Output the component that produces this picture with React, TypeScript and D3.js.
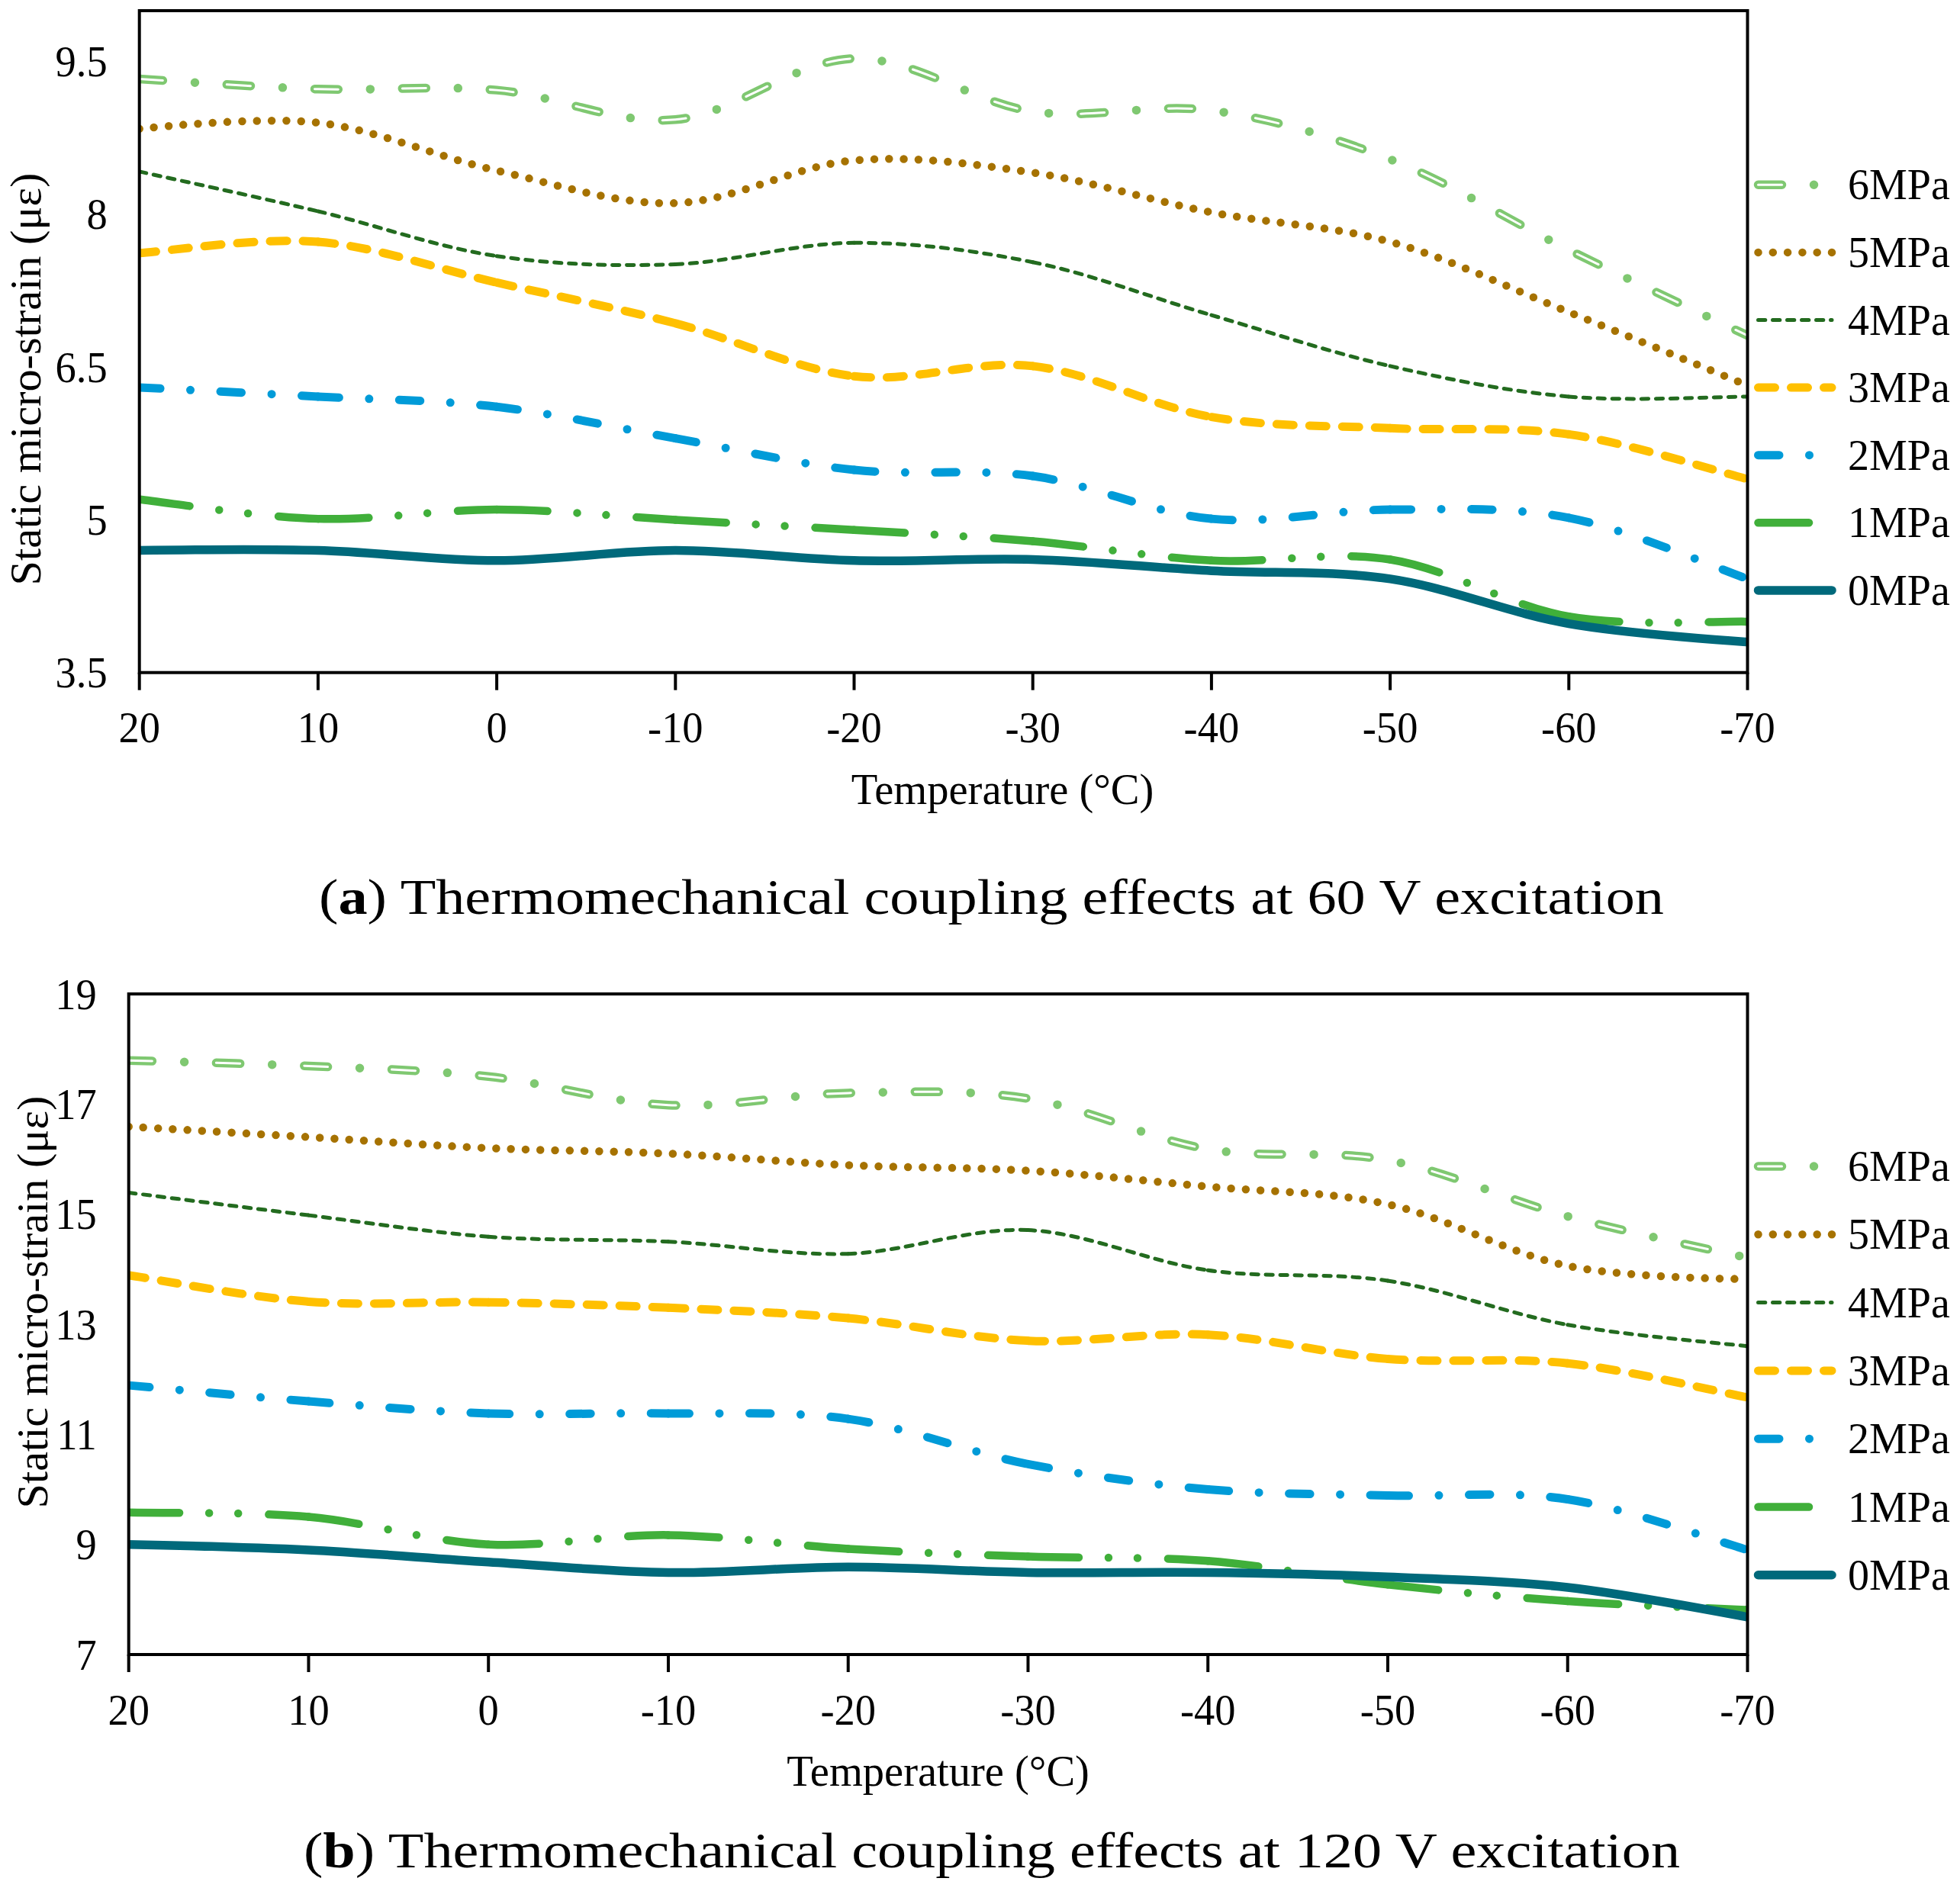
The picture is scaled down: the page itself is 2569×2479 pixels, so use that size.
import React from 'react'
import * as d3 from 'd3'

const W = 2569
const H = 2479
const FONT = '"Liberation Serif", "Times New Roman", serif'

// x categories (temperature, °C)
const temps = [20, 10, 0, -10, -20, -30, -40, -50, -60, -70]
const seriesNames = ['6MPa', '5MPa', '4MPa', '3MPa', '2MPa', '1MPa', '0MPa']

// (a) 60 V excitation
const a6 = [9.33, 9.23, 9.22, 8.93, 9.53, 9.01, 9.02, 8.54, 7.65, 6.81]
const a5 = [8.84, 8.9, 8.43, 8.11, 8.53, 8.41, 8.02, 7.73, 7.04, 6.32]
const a4 = [8.42, 8.03, 7.59, 7.51, 7.72, 7.53, 7.01, 6.51, 6.21, 6.21]
const a3 = [7.62, 7.73, 7.33, 6.93, 6.41, 6.51, 6.01, 5.9, 5.84, 5.4]
const a2 = [6.3, 6.21, 6.11, 5.8, 5.49, 5.43, 5.01, 5.1, 5.02, 4.42]
const a1 = [5.2, 5.01, 5.1, 5.0, 4.9, 4.79, 4.6, 4.61, 4.05, 4.0]
const a0 = [4.7, 4.7, 4.6, 4.7, 4.6, 4.61, 4.5, 4.42, 3.98, 3.8]

// (b) 120 V excitation
const b6 = [17.79, 17.69, 17.5, 16.98, 17.2, 17.1, 16.18, 15.98, 14.96, 14.21]
const b5 = [16.59, 16.4, 16.2, 16.1, 15.89, 15.79, 15.5, 15.18, 14.06, 13.82]
const b4 = [15.39, 14.98, 14.59, 14.5, 14.28, 14.71, 13.98, 13.79, 12.99, 12.6]
const b3 = [13.89, 13.41, 13.4, 13.3, 13.11, 12.7, 12.81, 12.37, 12.29, 11.67]
const b2 = [11.89, 11.6, 11.38, 11.38, 11.28, 10.46, 10.0, 9.89, 9.82, 8.9]
const b1 = [9.58, 9.5, 9.0, 9.17, 8.92, 8.78, 8.7, 8.27, 7.97, 7.81]
const b0 = [9.0, 8.9, 8.68, 8.49, 8.59, 8.49, 8.49, 8.41, 8.22, 7.68]

const aTicks = [3.5, 5, 6.5, 8, 9.5]
const bTicks = [7, 9, 11, 13, 15, 17, 19]

// line look per series (same order as seriesNames)
const looks = [
  { color: '#7FC871', width: 11.5, dash: [31, 42, 0, 42], restart: false, offset: 0, hollow: true },
  { color: '#A67200', width: 10.5, dash: [0, 19.3], restart: false, offset: 0, hollow: false },
  { color: '#236B1F', width: 5, dash: [9.3, 9.7], restart: true, offset: 0, hollow: false },
  { color: '#FFC000', width: 11, dash: [22, 21], restart: true, offset: 0, hollow: false },
  { color: '#009BD8', width: 11, dash: [27.5, 39.5, 0, 39.5], restart: true, offset: 0, hollow: false },
  { color: '#40AF3A', width: 10.5, dash: [117, 39, 0, 38, 0, 40], restart: true, offset: 50.5, hollow: false },
  { color: '#00697B', width: 11.5, dash: null as number[] | null, restart: false, offset: 0, hollow: false },
]

// Excel-like smoothing: one bezier per data interval (dash pattern restarts on each)
function segments(pts: [number, number][]): string[] {
  const out: string[] = []
  for (let i = 0; i < pts.length - 1; i++) {
    const p0 = pts[Math.max(i - 1, 0)]
    const p1 = pts[i]
    const p2 = pts[i + 1]
    const p3 = pts[Math.min(i + 2, pts.length - 1)]
    const p = d3.path()
    p.moveTo(p1[0], p1[1])
    p.bezierCurveTo(
      p1[0] + (p2[0] - p0[0]) / 6, p1[1] + (p2[1] - p0[1]) / 6,
      p2[0] - (p3[0] - p1[0]) / 6, p2[1] - (p3[1] - p1[1]) / 6,
      p2[0], p2[1])
    out.push(p.toString())
  }
  return out
}

const innerDash = (dash: number[]) => `${dash[0]} ${dash.slice(1).reduce((s, v) => s + v, 0)}`

interface PanelProps {
  id: string
  data: number[][]
  ticks: number[]
  domain: [number, number]
  left: number
  right: number
  top: number
  bottom: number
  yTitleX: number
  yTitleY: number
  xTitleX: number
  legendTop: number
  legendStep: number
  caption: string
  letter: string
  capX: number
  capY: number
  capLen: number
}

function Panel(p: PanelProps) {
  const x = d3.scaleLinear().domain([20, -70]).range([p.left, p.right])
  const y = d3.scaleLinear().domain(p.domain).range([p.bottom, p.top])
  const line = d3.line<[number, number]>().curve(d3.curveCardinal.tension(0))

  const strokeProps = (k: number) => {
    const lk = looks[k]
    return {
      fill: 'none',
      stroke: lk.color,
      strokeWidth: lk.width,
      strokeLinecap: 'round' as const,
      strokeDasharray: lk.dash ? lk.dash.join(' ') : undefined,
      strokeDashoffset: lk.offset || undefined,
    }
  }

  const legX0 = 2304.5
  const legX1 = 2401

  return (
    <g>
      <defs>
        <clipPath id={`clip-${p.id}`}>
          <rect x={p.left} y={p.top} width={p.right - p.left} height={p.bottom - p.top} />
        </clipPath>
      </defs>
      <g clipPath={`url(#clip-${p.id})`}>
        {p.data.map((vals, k) => {
          const lk = looks[k]
          const pts = temps.map((t, i) => [x(t), y(vals[i])] as [number, number])
          const paths = lk.restart ? segments(pts) : [line(pts) as string]
          return (
            <g key={k}>
              {paths.map((d, j) => (
                <path key={j} d={d} {...strokeProps(k)} />
              ))}
              {lk.hollow && lk.dash &&
                paths.map((d, j) => (
                  <path key={'h' + j} d={d} fill="none" stroke="#fff" strokeWidth={3}
                    strokeLinecap="round" strokeDasharray={innerDash(lk.dash!)} />
                ))}
            </g>
          )
        })}
      </g>

      <rect x={p.left} y={p.top} width={p.right - p.left} height={p.bottom - p.top}
        fill="none" stroke="#000" strokeWidth={4} />

      {temps.map(t => (
        <g key={t}>
          <line x1={x(t)} x2={x(t)} y1={p.bottom} y2={p.bottom + 23} stroke="#000" strokeWidth={4} />
          <text transform={`translate(${x(t)},${p.bottom + 91.5}) scale(1,1.065)`} textAnchor="middle"
            fontFamily={FONT} fontSize={54.5}>
            {String(t)}
          </text>
        </g>
      ))}

      {p.ticks.map(v => (
        <text key={v} transform={`translate(${p.left - 42},${y(v) + 19.5}) scale(1,1.065)`} textAnchor="end"
          fontFamily={FONT} fontSize={54.5}>
          {String(v)}
        </text>
      ))}

      <text transform={`translate(${p.yTitleX},${p.yTitleY}) rotate(-90) scale(1.04,1)`} textAnchor="middle"
        fontFamily={FONT} fontSize={56}>Static micro-strain (με)</text>

      <text x={p.xTitleX} y={p.bottom + 172} textAnchor="middle" fontFamily={FONT} fontSize={56.5}>
        Temperature (°C)
      </text>

      {seriesNames.map((name, k) => {
        const ly = p.legendTop + k * p.legendStep
        const lk = looks[k]
        return (
          <g key={name}>
            <line x1={legX0} x2={legX1} y1={ly} y2={ly} {...strokeProps(k)} />
            {lk.hollow && lk.dash && (
              <line x1={legX0} x2={legX1} y1={ly} y2={ly} stroke="#fff" strokeWidth={3}
                strokeLinecap="round" strokeDasharray={innerDash(lk.dash)} />
            )}
            <text x={2422} y={ly + 19} fontFamily={FONT} fontSize={56}>{name}</text>
          </g>
        )
      })}

      <text x={p.capX} y={p.capY} fontFamily={FONT} fontSize={66} textLength={p.capLen}
        lengthAdjust="spacingAndGlyphs">
        (<tspan fontWeight="bold">{p.letter}</tspan>) {p.caption}
      </text>
    </g>
  )
}

export default function App() {
  return (
    <svg width={W} height={H} viewBox={`0 0 ${W} ${H}`}
      style={{ position: 'absolute', left: 0, top: 0, background: '#fff' }}>
      <rect width={W} height={H} fill="#fff" />
      <Panel id="a" data={[a6, a5, a4, a3, a2, a1, a0]} ticks={aTicks} domain={[3.5, 10]}
        left={182.7} right={2290.5} top={14} bottom={881.7}
        yTitleX={53} yTitleY={497} xTitleX={1314}
        legendTop={242.3} legendStep={88.6}
        caption="Thermomechanical coupling effects at 60 V excitation" letter="a"
        capX={418} capY={1198} capLen={1763} />
      <Panel id="b" data={[b6, b5, b4, b3, b2, b1, b0]} ticks={bTicks} domain={[7, 19]}
        left={168.7} right={2290.5} top={1303} bottom={2169}
        yTitleX={61.5} yTitleY={1707} xTitleX={1229.6}
        legendTop={1529} legendStep={89.3}
        caption="Thermomechanical coupling effects at 120 V excitation" letter="b"
        capX={398} capY={2448} capLen={1804} />
    </svg>
  )
}
